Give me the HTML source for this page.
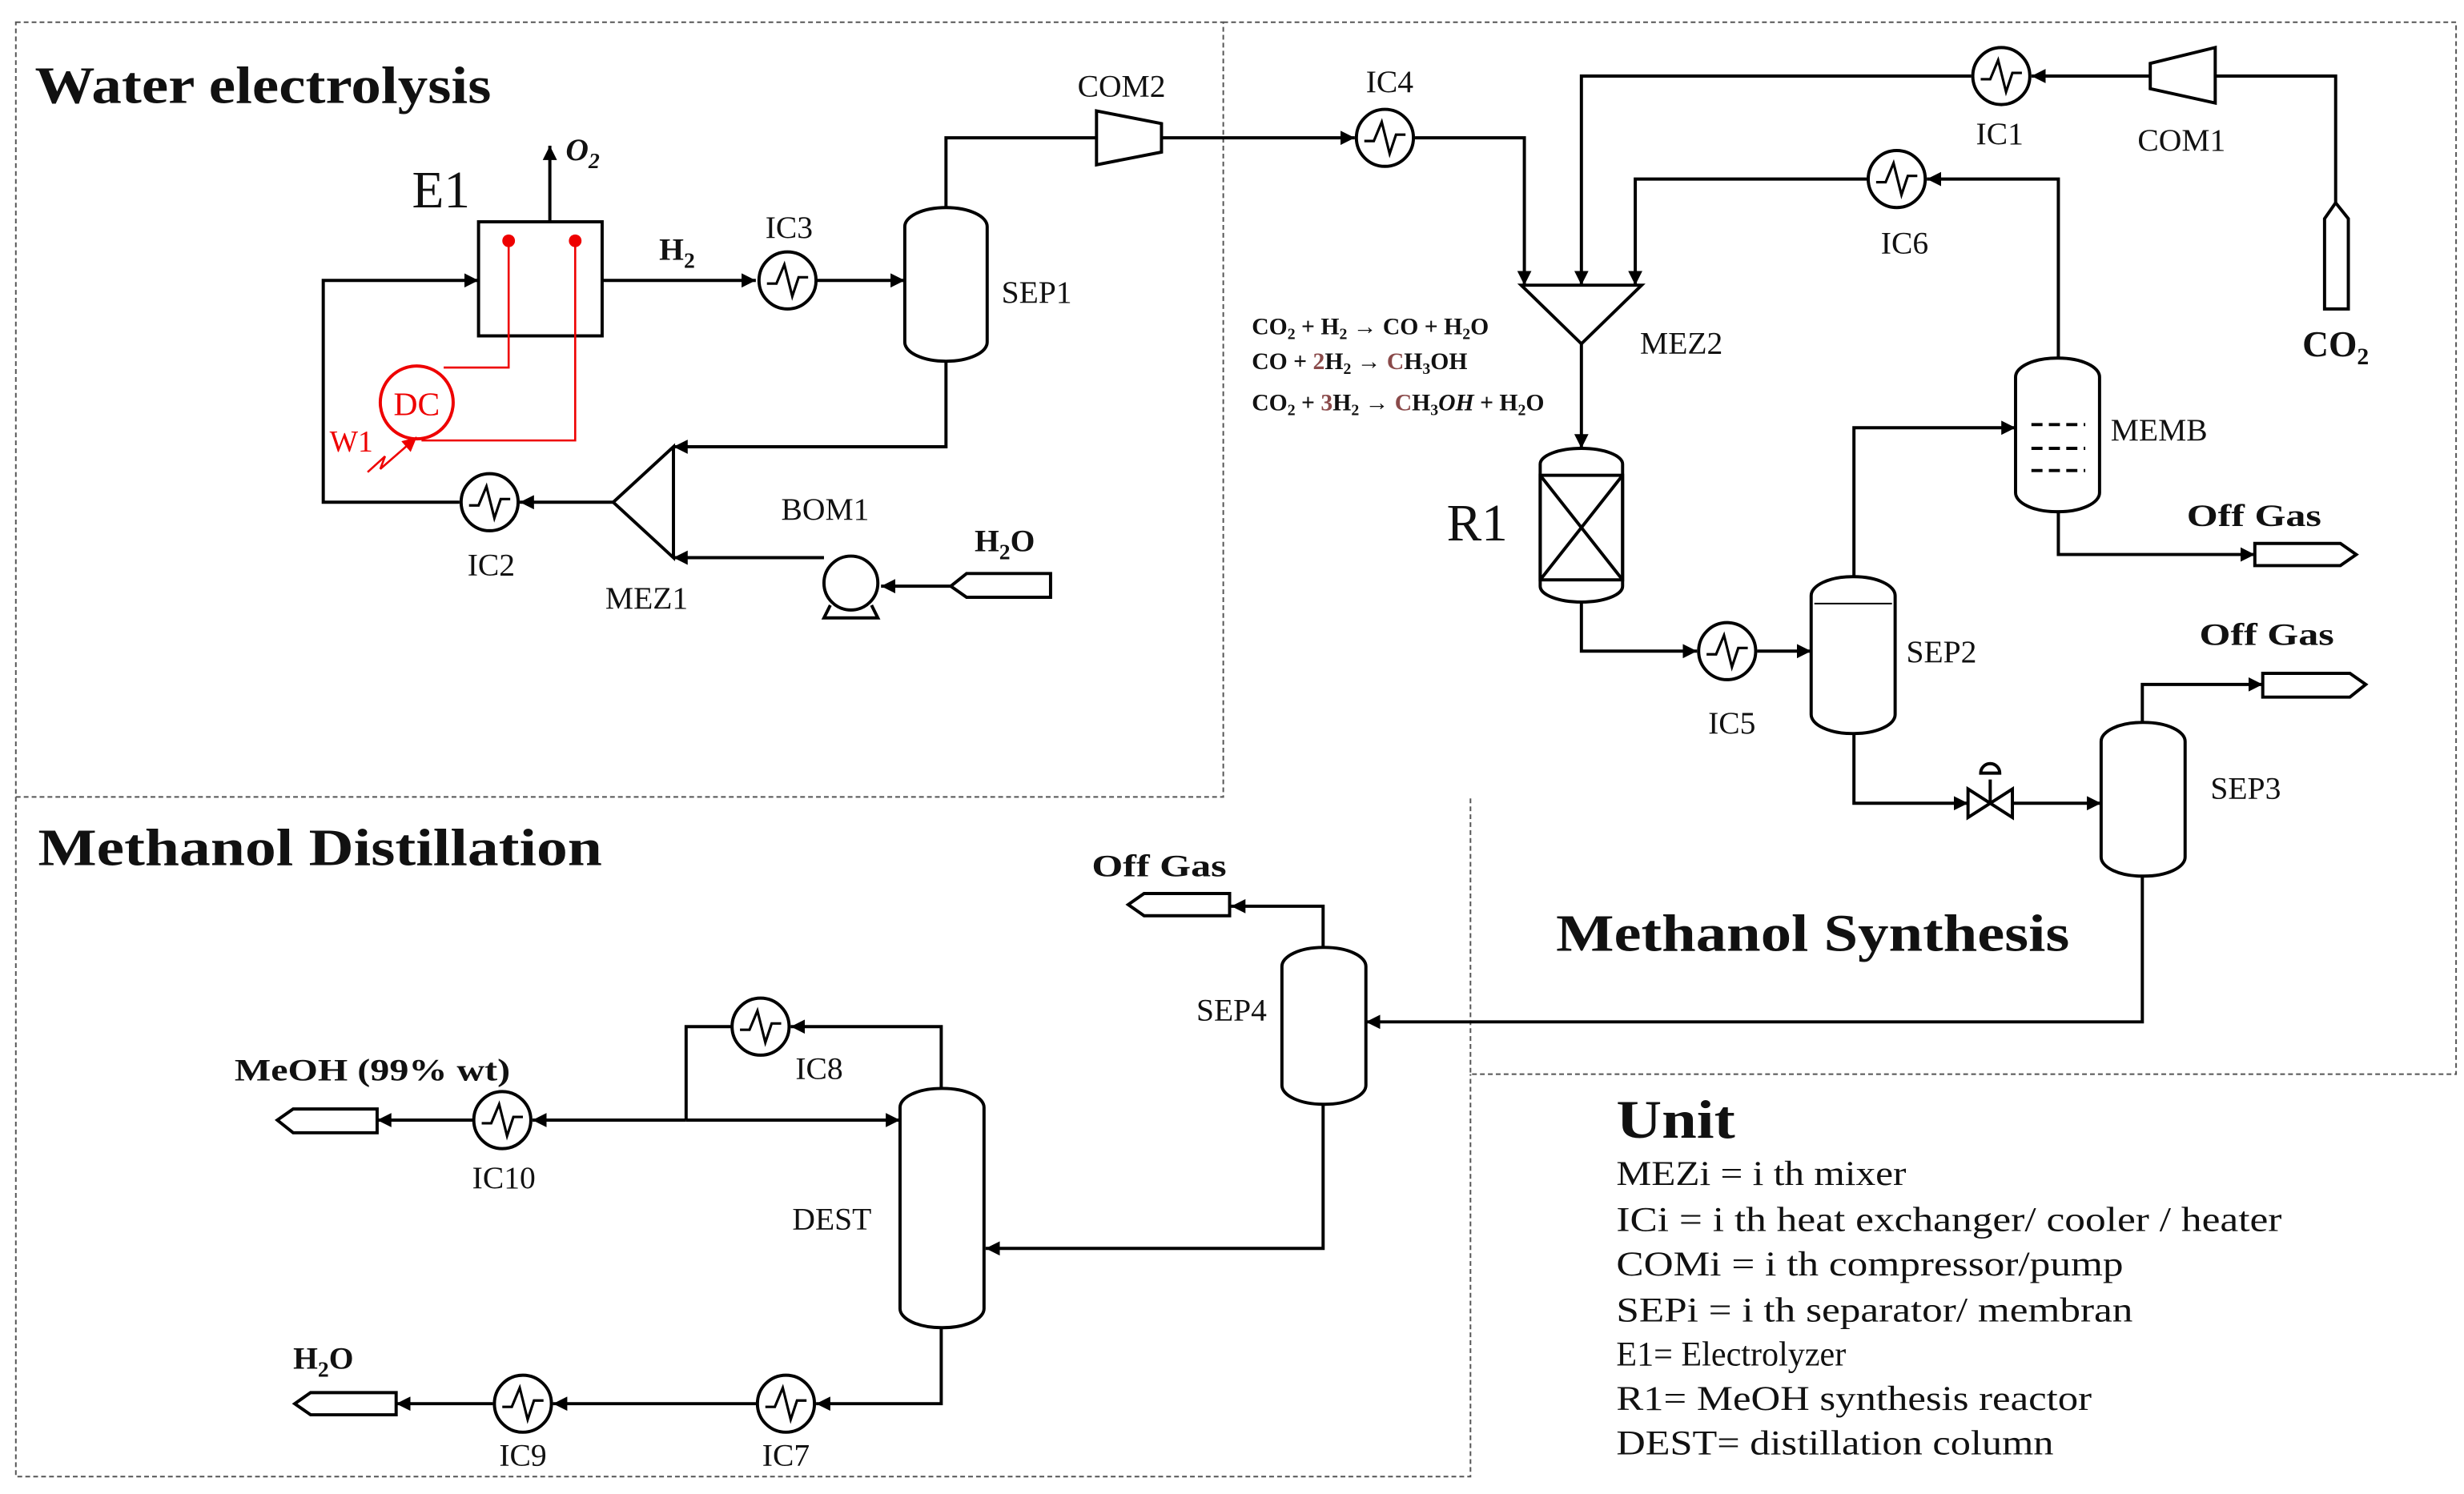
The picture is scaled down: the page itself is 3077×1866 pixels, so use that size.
<!DOCTYPE html>
<html><head><meta charset="utf-8"><style>
html,body{margin:0;padding:0;background:#fff}
svg{display:block}
text{font-family:"Liberation Serif",serif;fill:#111}
</style></head><body>
<svg width="3077" height="1866" viewBox="0 0 1555 943" xmlns="http://www.w3.org/2000/svg">
<defs>
<marker id="a" viewBox="0 0 10 10" refX="10" refY="5" markerWidth="9" markerHeight="9" orient="auto" markerUnits="userSpaceOnUse"><path d="M0,0 L10,5 L0,10 z" fill="#000"/></marker>
<marker id="ar" viewBox="0 0 10 10" refX="10" refY="5" markerWidth="9" markerHeight="9" orient="auto" markerUnits="userSpaceOnUse"><path d="M0,0 L10,5 L0,10 z" fill="#e00"/></marker>
<g id="hx"><circle cx="0" cy="0" r="18" fill="#fff" stroke="#000" stroke-width="2"/><path d="M-13,2 L-7,2 L-2,-10 L3,10 L7,-2 L13,-2" fill="none" stroke="#000" stroke-width="1.6"/></g>
</defs>
<g fill="none" stroke="#555" stroke-width="1" stroke-dasharray="3,2">
<path d="M10,14 H772 V503 H10 Z"/>
<path d="M772,14 H1550 V678 H928 V503"/>
<path d="M10,503 V932 H928 V678"/>
</g>
<g fill="none" stroke="#000" stroke-width="2">
<rect x="302" y="140" width="78" height="72"/>
<path d="M347,140 V92" marker-end="url(#a)"/>
<path d="M380,177 H477" marker-end="url(#a)"/>
<path d="M515,177 H571" marker-end="url(#a)"/>
<rect x="571" y="131" width="52" height="97" rx="26" ry="12"/>
<path d="M597,131 V87 H692"/>
<path d="M692,70 L733,78 L733,96 L692,104 Z"/>
<path d="M733,87 H855" marker-end="url(#a)"/>
<path d="M893,87 H962 V180" marker-end="url(#a)"/>
<path d="M597,228 V282 H425" marker-end="url(#a)"/>
<path d="M425,282 V352 L387,317 Z"/>
<circle cx="537" cy="368" r="17"/>
<path d="M524,382 L520,390 H554 L550,382"/>
<path d="M600,370 L610,362 H663 V377 H610 Z"/>
<path d="M600,370 H556" marker-end="url(#a)"/>
<path d="M520,352 H425" marker-end="url(#a)"/>
<path d="M387,317 H328" marker-end="url(#a)"/>
<path d="M290,317 H204 V177 H302" marker-end="url(#a)"/>
<path d="M1467,195 V138 L1474,128 L1482,138 V195 Z"/>
<path d="M1474,128 V48 H1398"/>
<path d="M1357,40 L1398,30 L1398,65 L1357,56 Z"/>
<path d="M1357,48 H1282" marker-end="url(#a)"/>
<path d="M1244,48 H998 V180" marker-end="url(#a)"/>
<path d="M1299,226 V113 H1216" marker-end="url(#a)"/>
<path d="M1179,113 H1032 V180" marker-end="url(#a)"/>
<path d="M960,180 H1036 L998,217 Z"/>
<path d="M998,217 V283" marker-end="url(#a)"/>
<rect x="972" y="283" width="52" height="97" rx="26" ry="10"/>
<rect x="972" y="300" width="52" height="66"/>
<path d="M972,300 L1024,366 M1024,300 L972,366"/>
<path d="M998,380 V411 H1071" marker-end="url(#a)"/>
<path d="M1109,411 H1143" marker-end="url(#a)"/>
<rect x="1143" y="364" width="53" height="99" rx="26" ry="12"/>
<path d="M1145,381 H1194" stroke-width="1"/>
<path d="M1170,364 V270 H1272" marker-end="url(#a)"/>
<rect x="1272" y="226" width="53" height="97" rx="26" ry="12"/>
<path d="M1282,268 H1316 M1282,283 H1316 M1282,297 H1316" stroke-dasharray="7,4"/>
<path d="M1299,323 V350 H1423" marker-end="url(#a)"/>
<path d="M1423,343 H1477 L1487,350 L1477,357 H1423 Z"/>
<path d="M1170,463 V507 H1242" marker-end="url(#a)"/>
<path d="M1242,498 L1270,516 V498 L1242,516 Z"/>
<path d="M1256,507 V492 M1250,488 a6,6 0 0 1 12,0 Z"/>
<path d="M1270,507 H1326" marker-end="url(#a)"/>
<rect x="1326" y="456" width="53" height="97" rx="26" ry="12"/>
<path d="M1352,456 V432 H1428" marker-end="url(#a)"/>
<path d="M1428,425 H1483 L1493,432 L1483,440 H1428 Z"/>
<path d="M1352,553 V645 H862" marker-end="url(#a)"/>
<rect x="809" y="598" width="53" height="99" rx="26" ry="12"/>
<path d="M835,598 V572 H777" marker-end="url(#a)"/>
<path d="M776,564 H722 L712,571 L722,578 H776 Z"/>
<path d="M835,697 V788 H622" marker-end="url(#a)"/>
<rect x="568" y="687" width="53" height="151" rx="26" ry="12"/>
<path d="M594,687 V648 H499" marker-end="url(#a)"/>
<path d="M462,648 H433 V707"/>
<path d="M433,707 H568" marker-end="url(#a)"/>
<path d="M433,707 H336" marker-end="url(#a)"/>
<path d="M299,707 H238" marker-end="url(#a)"/>
<path d="M238,700 H185 L175,707 L185,715 H238 Z"/>
<path d="M594,838 V886 H515" marker-end="url(#a)"/>
<path d="M478,886 H349" marker-end="url(#a)"/>
<path d="M311,886 H250" marker-end="url(#a)"/>
<path d="M250,879 H196 L186,886 L196,893 H250 Z"/>
</g>
<use href="#hx" x="497" y="177"/><use href="#hx" x="309" y="317"/>
<use href="#hx" x="874" y="87"/><use href="#hx" x="1263" y="48"/>
<use href="#hx" x="1197" y="113"/><use href="#hx" x="1090" y="411"/>
<use href="#hx" x="480" y="648"/><use href="#hx" x="317" y="707"/>
<use href="#hx" x="496" y="886"/><use href="#hx" x="330" y="886"/>
<g fill="none" stroke="#e00" stroke-width="1.3">
<path d="M321,152 V232 H280"/>
<path d="M363,152 V278 H266"/>
<circle cx="263" cy="254" r="23" stroke-width="2"/>
<path d="M232,298 L243,288 L240,296 L263,276" marker-end="url(#ar)"/>
</g>
<circle cx="321" cy="152" r="4" fill="#e00"/><circle cx="363" cy="152" r="4" fill="#e00"/>
<text x="263" y="262" font-size="21" text-anchor="middle" style="fill:#e00">DC</text>
<text x="208" y="285" font-size="19" style="fill:#e00">W1</text>
<g font-size="20">
<text x="22" y="65" font-size="33" font-weight="bold" textLength="288" lengthAdjust="spacingAndGlyphs">Water electrolysis</text>
<text x="260" y="131" font-size="33">E1</text>
<text x="357" y="101" font-weight="bold" font-style="italic">O<tspan font-size="14" dy="5">2</tspan></text>
<text x="416" y="164" font-weight="bold">H<tspan font-size="14" dy="5">2</tspan></text>
<text x="483" y="150">IC3</text>
<text x="632" y="191">SEP1</text>
<text x="680" y="61">COM2</text>
<text x="862" y="58">IC4</text>
<text x="295" y="363">IC2</text>
<text x="382" y="384">MEZ1</text>
<text x="493" y="328">BOM1</text>
<text x="615" y="348" font-weight="bold">H<tspan font-size="14" dy="5">2</tspan><tspan dy="-5">O</tspan></text>
<text x="1247" y="91">IC1</text>
<text x="1349" y="95">COM1</text>
<text x="1187" y="160">IC6</text>
<text x="1453" y="225" font-weight="bold" font-size="23">CO<tspan font-size="15" dy="5">2</tspan></text>
<text x="1035" y="223">MEZ2</text>
<text x="913" y="341" font-size="33">R1</text>
<text x="1332" y="278">MEMB</text>
<text x="1380" y="332" font-weight="bold" textLength="85" lengthAdjust="spacingAndGlyphs">Off Gas</text>
<text x="1203" y="418">SEP2</text>
<text x="1078" y="463">IC5</text>
<text x="1388" y="407" font-weight="bold" textLength="85" lengthAdjust="spacingAndGlyphs">Off Gas</text>
<text x="1395" y="504">SEP3</text>
<text x="982" y="600" font-size="33" font-weight="bold" textLength="324" lengthAdjust="spacingAndGlyphs">Methanol Synthesis</text>
<text x="24" y="546" font-size="33" font-weight="bold" textLength="356" lengthAdjust="spacingAndGlyphs">Methanol Distillation</text>
<text x="689" y="553" font-weight="bold" textLength="85" lengthAdjust="spacingAndGlyphs">Off Gas</text>
<text x="755" y="644">SEP4</text>
<text x="502" y="681">IC8</text>
<text x="148" y="682" font-weight="bold" textLength="174" lengthAdjust="spacingAndGlyphs">MeOH (99% wt)</text>
<text x="298" y="750">IC10</text>
<text x="500" y="776">DEST</text>
<text x="185" y="864" font-weight="bold">H<tspan font-size="14" dy="5">2</tspan><tspan dy="-5">O</tspan></text>
<text x="481" y="925">IC7</text>
<text x="315" y="925">IC9</text>
</g>
<g font-size="15" font-weight="bold">
<text x="790" y="211">CO<tspan font-size="10" dy="3">2</tspan><tspan dy="-3"> + H</tspan><tspan font-size="10" dy="3">2</tspan><tspan dy="-3"> → CO + H</tspan><tspan font-size="10" dy="3">2</tspan><tspan dy="-3">O</tspan></text>
<text x="790" y="233">CO + <tspan style="fill:#8a4a4a">2</tspan>H<tspan font-size="10" dy="3">2</tspan><tspan dy="-3"> → </tspan><tspan style="fill:#8a4a4a">C</tspan>H<tspan font-size="10" dy="3">3</tspan><tspan dy="-3">OH</tspan></text>
<text x="790" y="259">CO<tspan font-size="10" dy="3">2</tspan><tspan dy="-3"> + </tspan><tspan style="fill:#8a4a4a">3</tspan>H<tspan font-size="10" dy="3">2</tspan><tspan dy="-3"> → </tspan><tspan style="fill:#8a4a4a">C</tspan>H<tspan font-size="10" dy="3">3</tspan><tspan dy="-3" font-style="italic">OH</tspan><tspan> + H</tspan><tspan font-size="10" dy="3">2</tspan><tspan dy="-3">O</tspan></text>
</g>
<g font-size="22">
<text x="1020" y="718" font-size="34" font-weight="bold" textLength="75" lengthAdjust="spacingAndGlyphs">Unit</text>
<text x="1020" y="748" textLength="183" lengthAdjust="spacingAndGlyphs">MEZi = i th mixer</text>
<text x="1020" y="777" textLength="420" lengthAdjust="spacingAndGlyphs">ICi =  i th heat exchanger/ cooler / heater</text>
<text x="1020" y="805" textLength="320" lengthAdjust="spacingAndGlyphs">COMi = i th compressor/pump</text>
<text x="1020" y="834" textLength="326" lengthAdjust="spacingAndGlyphs">SEPi = i th separator/ membran</text>
<text x="1020" y="862" textLength="145" lengthAdjust="spacingAndGlyphs">E1= Electrolyzer</text>
<text x="1020" y="890" textLength="300" lengthAdjust="spacingAndGlyphs">R1= MeOH synthesis reactor</text>
<text x="1020" y="918" textLength="276" lengthAdjust="spacingAndGlyphs">DEST= distillation column</text>
</g>
</svg>
</body></html>
